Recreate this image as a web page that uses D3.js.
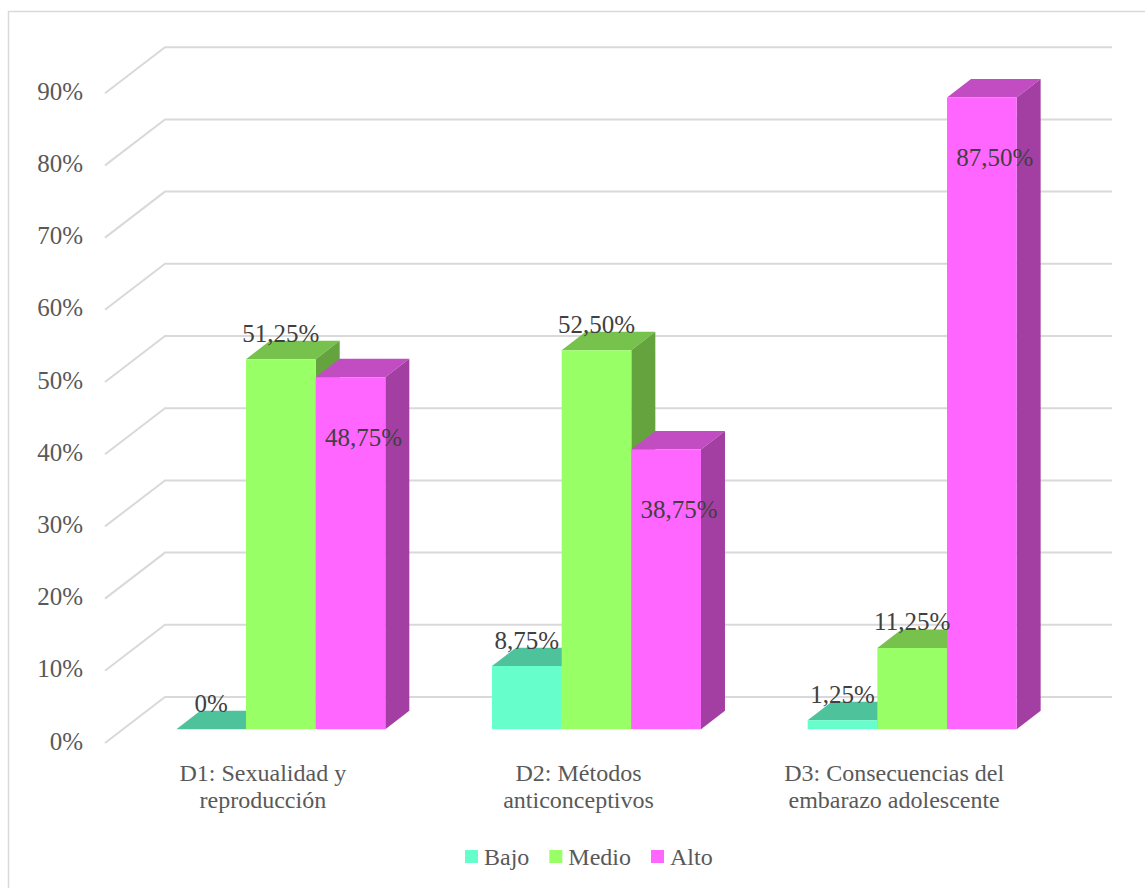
<!DOCTYPE html>
<html><head><meta charset="utf-8">
<script src="https://cdn.jsdelivr.net/npm/d3@7"></script>
<style>body{margin:0;background:#fff;}svg{display:block;}</style>
</head><body>
<script>
const categories = [["D1: Sexualidad y","reproducción"],["D2: Métodos","anticonceptivos"],["D3: Consecuencias del","embarazo adolescente"]];
const categoryKeys = ["D1","D2","D3"];
const seriesNames = ["Bajo","Medio","Alto"];
const bajo  = [0, 8.75, 1.25];
const medio = [51.25, 52.50, 11.25];
const alto  = [48.75, 38.75, 87.50];
const yTicks = [0,10,20,30,40,50,60,70,80,90];

const colors = {Bajo:["#66FFCC","#4DC29B","#3EA37F"], Medio:["#99FF66","#77C24D","#64A33E"], Alto:["#FF66FF","#C24DC2","#A33EA3"]};
const values = {Bajo:bajo, Medio:medio, Alto:alto};

const W=1145,H=888;
const svg=d3.select("body").append("svg").attr("width",W).attr("height",H);
svg.append("rect").attr("x",8.5).attr("y",11.5).attr("width",1200).attr("height",1000).attr("fill","#fff").attr("stroke","#d9d9d9").attr("stroke-width",1.5);

const DX=60, DY=-46;         // depth vector (full depth)
const y=d3.scaleLinear().domain([0,90]).range([743,743-649.8]);
const x0=d3.scaleBand().domain(categoryKeys).range([105,1052]).padding(0);
const x1=d3.scaleBand().domain(seriesNames).range([0,x0.bandwidth()]).paddingInner(0).paddingOuter(0.766);
const F0=0.3,F1=0.7;
const P=(X,v,f)=>[X+f*DX, y(v)+f*DY];
const fmt=v=> v===0? "0%" : d3.format(".2f")(v).replace(".",",")+"%";

// gridlines
const g=svg.append("g");
yTicks.forEach(t=>{
  const a=P(105,t,0), b=P(105,t,1), c=P(1052,t,1);
  g.append("path").attr("d",`M${a}L${b}L${c}`).attr("fill","none").attr("stroke","#d9d9d9").attr("stroke-width",2);
  g.append("text").attr("x",83).attr("y",a[1]-2).attr("text-anchor","end").attr("dominant-baseline","central")
   .attr("font-family","Liberation Serif").attr("font-size",25).attr("fill","#595959").text(t+"%");
});

// bars
const bars=svg.append("g");
const labels=[];
categoryKeys.forEach((ck,ci)=>{
  seriesNames.forEach(s=>{
    const v=values[s][ci];
    const xl=x0(ck)+x1(s), xr=xl+x1.bandwidth();
    const c=colors[s];
    const poly=pts=>"M"+pts.map(p=>p.join(",")).join("L")+"Z";
    bars.append("path").attr("d",poly([P(xl,v,F0),P(xr,v,F0),P(xr,v,F1),P(xl,v,F1)])).attr("fill",c[1]);
    if(v>0) bars.append("path").attr("d",poly([P(xr,0,F0),P(xr,v,F0),P(xr,v,F1),P(xr,0,F1)])).attr("fill",c[2]);
    if(v>0) bars.append("path").attr("d",poly([P(xl,0,F0),P(xr,0,F0),P(xr,v,F0),P(xl,v,F0)])).attr("fill",c[0]);
    const front=P((xl+xr)/2,v,F0);
    if(s==="Alto") labels.push({x:front[0]+13,y:front[1]+60,t:fmt(v)});
    else labels.push({x:front[0],y:front[1]-26,t:fmt(v)});
  });
});
svg.append("g").selectAll("text").data(labels).join("text")
  .attr("x",d=>d.x).attr("y",d=>d.y).attr("text-anchor","middle").attr("dominant-baseline","central")
  .attr("font-family","Liberation Serif").attr("font-size",25).attr("fill","#404040").text(d=>d.t);

// category labels (at the front edge of the floor)
categories.forEach((lines,i)=>{
  const cx=x0(categoryKeys[i])+x0.bandwidth()/2;
  const t=svg.append("text").attr("text-anchor","middle").attr("font-family","Liberation Serif").attr("font-size",24).attr("fill","#595959");
  lines.forEach((l,j)=>t.append("tspan").attr("x",cx).attr("y",781+j*27).text(l));
});

// legend
const lg=svg.append("g");
let lx=465;
seriesNames.forEach(s=>{
  lg.append("rect").attr("x",lx).attr("y",850).attr("width",13).attr("height",13).attr("fill",colors[s][0]);
  const t=lg.append("text").attr("x",lx+19).attr("y",857).attr("dominant-baseline","central")
    .attr("font-family","Liberation Serif").attr("font-size",24).attr("fill","#595959").text(s);
  lx+=19+t.node().getComputedTextLength()+20;
});
</script>
</body></html>
